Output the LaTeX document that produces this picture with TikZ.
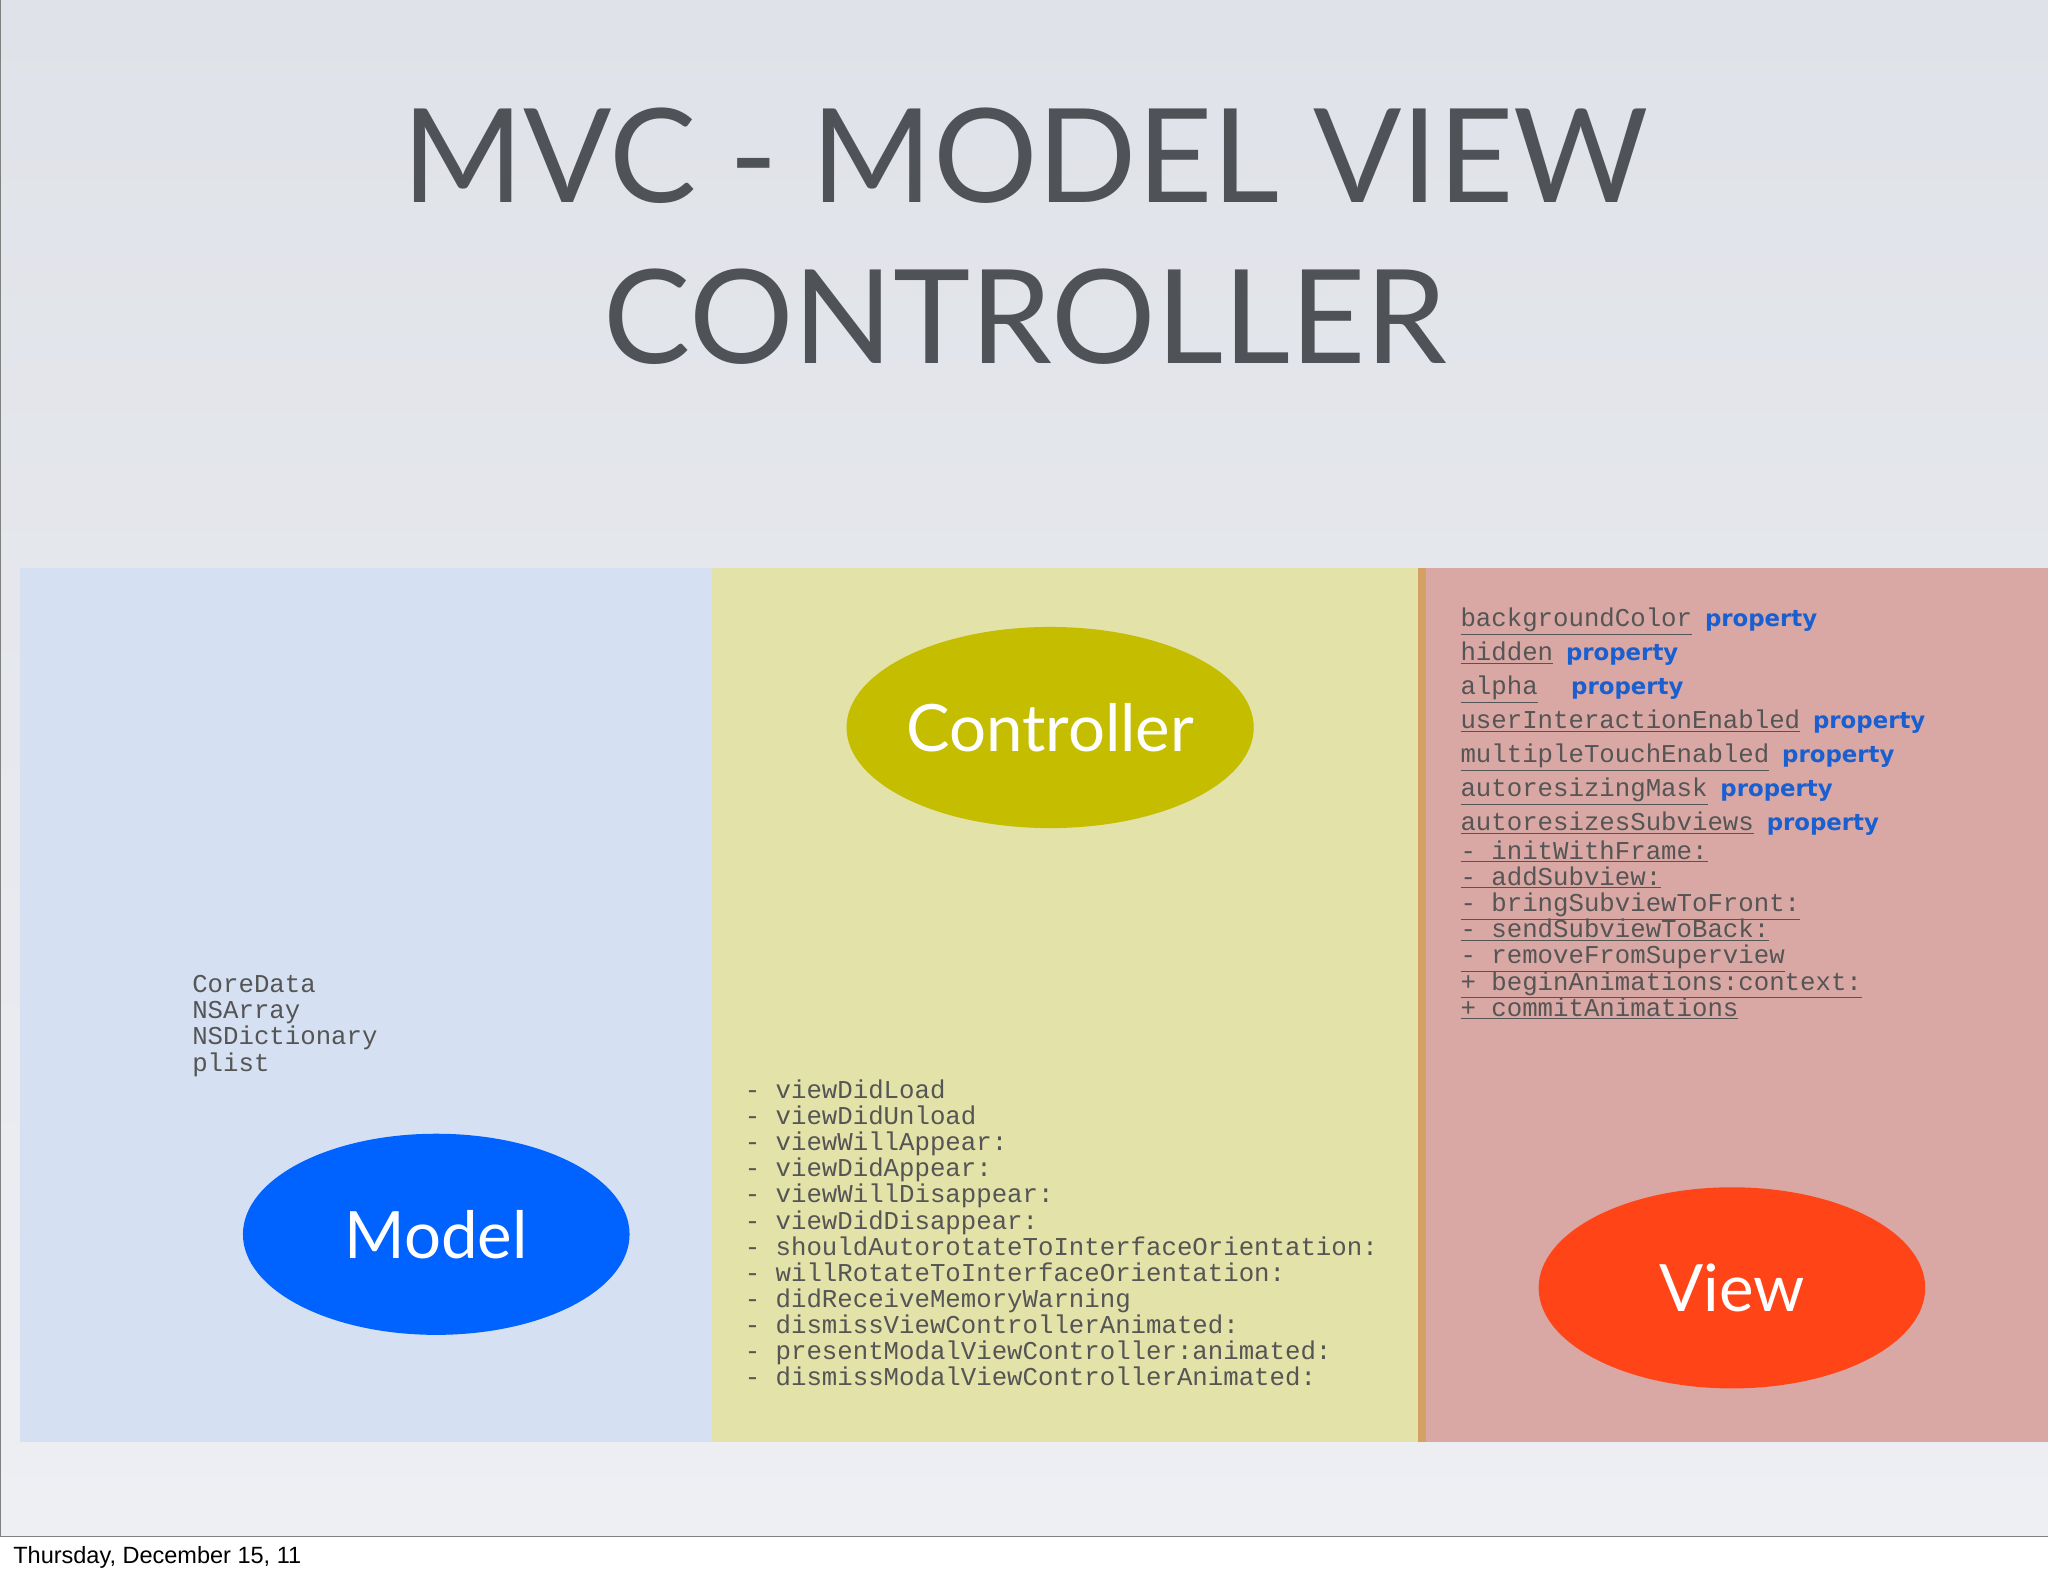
\documentclass[tikz,border=0pt]{standalone}
\usepackage{fontspec}
\setmainfont{Lato}
\newfontfamily\monof{Liberation Mono}
\newfontfamily\propf{DejaVu Sans}
\newfontfamily\datef{Liberation Sans}
\definecolor{bgtop}{HTML}{DFE2E8}
\definecolor{bgbot}{HTML}{EEEFF3}
\definecolor{pblue}{HTML}{D5E1F3}
\definecolor{pyel}{HTML}{E3E2A8}
\definecolor{pred}{HTML}{D9A8A4}
\definecolor{ctrl}{HTML}{C5BD00}
\definecolor{mdl}{HTML}{0062FF}
\definecolor{vw}{HTML}{FF4517}
\definecolor{ttl}{HTML}{4F5256}
\definecolor{txt}{HTML}{555555}
\definecolor{prop}{HTML}{1A5FD0}
\definecolor{sep}{HTML}{D4A064}
\tikzset{
  mono/.style={anchor=base west,inner sep=0pt,font=\monof\fontsize{19.7}{20}\selectfont,text=txt},
  ell/.style={ellipse,minimum width=296pt,minimum height=154pt,inner sep=0pt,text=white,font=\fontsize{50}{54}\selectfont},
  ttlst/.style={anchor=base,inner sep=0pt,text=ttl,font=\fontsize{100}{100}\selectfont}
}
\usetikzlibrary{shapes.geometric}
\newcommand{\pr}{\hspace{0.5em}{\propf\bfseries\fontsize{17.5}{20}\selectfont\color{prop}property}}
\begin{document}
\begin{tikzpicture}[x=1pt,y=-1pt]
\useasboundingbox (0,0) rectangle (1568,1207);
\fill[top color=bgtop,bottom color=bgbot] (0,0) rectangle (1568,1176);
\fill[white] (0,1176) rectangle (1568,1207);
\draw[gray,line width=1pt] (0.5,0) -- (0.5,1176.5) -- (1568,1176.5);
\node[ttlst] (t1) at (785,155) {MVC - MODEL VIEW};
\node[ttlst] (t2) at (785,278) {CONTROLLER};
\fill[pblue] (15,435) rectangle (545,1104);
\fill[pyel] (545,435) rectangle (1087,1104);
\fill[pred] (1087,435) rectangle (1568,1104);
\fill[sep] (1086,435) rectangle (1092,1104);
\node[ell,fill=ctrl] (c) at (804,557) {Controller};
\node[ell,fill=mdl] (m) at (334,945) {Model};
\node[ell,fill=vw] (v) at (1326,986) {View};
\foreach \t [count=\i] in {CoreData,NSArray,NSDictionary,plist}
  \node[mono] (ml\i) at (147,760+20*\i-20) {\t};
\foreach \t [count=\i] in {viewDidLoad,viewDidUnload,viewWillAppear:,viewDidAppear:,viewWillDisappear:,viewDidDisappear:,shouldAutorotateToInterfaceOrientation:,willRotateToInterfaceOrientation:,didReceiveMemoryWarning,dismissViewControllerAnimated:,presentModalViewController:animated:,dismissModalViewControllerAnimated:}
  \node[mono] (cl\i) at (570,841+20*\i-20) {- \t};
\foreach \t/\g [count=\i] in {backgroundColor/{},hidden/{},alpha/{\hspace{0.8em}},userInteractionEnabled/{},multipleTouchEnabled/{},autoresizingMask/{},autoresizesSubviews/{}}
  \node[mono] (vp\i) at (1118,480+26*\i-26) {\underline{\t}\g\pr};
\foreach \t [count=\i] in {- initWithFrame:,- addSubview:,- bringSubviewToFront:,- sendSubviewToBack:,- removeFromSuperview,+ beginAnimations:context:,+ commitAnimations}
  \node[mono] (vm\i) at (1118,658+20*\i-20) {\underline{\t}};
\node[anchor=base west,inner sep=0pt,font=\datef\fontsize{18}{20}\selectfont] (d) at (10,1197) {Thursday, December 15, 11};
\end{tikzpicture}
\end{document}
